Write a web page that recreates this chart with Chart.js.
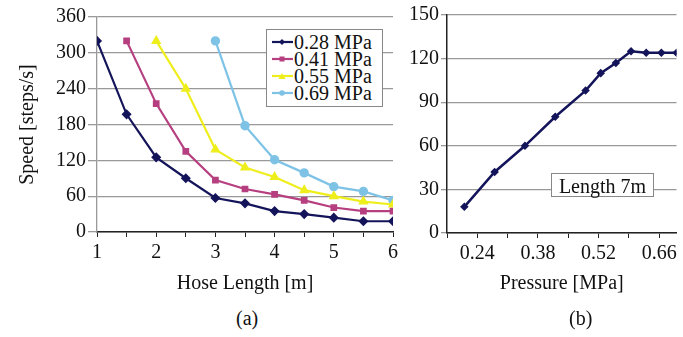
<!DOCTYPE html>
<html>
<head>
<meta charset="utf-8">
<script src="https://cdn.jsdelivr.net/npm/chart.js@4.4.0/dist/chart.umd.min.js"></script>
<style>
  body { margin: 0; background: #fff; width: 683px; height: 337px; overflow: hidden; position: relative; font-family: 'Liberation Serif', serif; color: #111; }
  .box { position: absolute; }
  #legend { left: 266px; top: 29px; width: 117px; height: 78px; border: 1px solid #888; background: #fff; padding-top: 4px; box-sizing: border-box; }
  .row { height: 17px; line-height: 17px; font-size: 20px; white-space: nowrap; }
  .row svg { vertical-align: middle; margin-left: 5px; margin-right: 1px; position: relative; top: -2px; }
  #note { left: 551px; top: 173px; width: 103px; height: 24px; border: 1px solid #888; background: #fff; font-size: 20px; line-height: 24px; text-align: center; box-sizing: border-box; }
  .cap { position: absolute; font-size: 20px; top: 307px; }
</style>
</head>
<body>
<div class="box" style="left:0;top:0;width:410px;height:300px"><canvas id="hose"></canvas></div>
<div class="box" style="left:400px;top:0;width:283px;height:300px"><canvas id="pressure"></canvas></div>
<div class="box" id="legend"></div>
<div class="box" id="note">Length 7m</div>
<div class="cap" style="left:236px">(a)</div>
<div class="cap" style="left:569px">(b)</div>
<script>
// (a) speed vs hose length
let hoseLength = [1, 1.5, 2, 2.5, 3, 3.5, 4, 4.5, 5, 5.5, 6];
let seriesNames = ['0.28 MPa', '0.41 MPa', '0.55 MPa', '0.69 MPa'];
let speed028 = [320, 197, 125, 90, 57, 48, 35, 30, 24, 18, 18];
let speed041 = [null, 320, 215, 135, 87, 72, 63, 53, 41, 35, 35];
let speed055 = [null, null, 320, 240, 138, 108, 92, 70, 60, 51, 46];
let speed069 = [null, null, null, null, 320, 178, 121, 99, 76, 68, 53];
let speedTicks = [0, 60, 120, 180, 240, 300, 360];

// (b) speed vs pressure, hose 7m
let pressure = [0.21, 0.28, 0.35, 0.42, 0.49, 0.525, 0.56, 0.595, 0.63, 0.665, 0.70];
let speed7m = [18, 42, 60, 80, 98, 110, 117, 125, 124, 124, 124];
let pressureTicks = ['0.24', '0.38', '0.52', '0.66'];

let colores = ['#14145a', '#b63f80', '#eeee1c', '#7ec3e6'];
let marcas = ['rectRot', 'rect', 'triangle', 'circle'];
let radios = [3.5, 3.2, 3.8, 3.6];

Chart.defaults.font.family = 'Liberation Serif';
Chart.defaults.font.size = 20;
Chart.defaults.color = '#111';
Chart.defaults.animation = false;

function puntos(xs, ys) {
    let out = [];
    for (i = 0; i < xs.length; i++) {
        if (ys[i] !== null) out.push({x: xs[i], y: ys[i]});
    }
    return out;
}

let todas = [speed028, speed041, speed055, speed069];
let datasets = [];
for (let k = 0; k < todas.length; k++) {
    datasets.push({
        label: seriesNames[k],
        data: puntos(hoseLength, todas[k]),
        borderColor: colores[k],
        backgroundColor: colores[k],
        borderWidth: 2.2,
        pointStyle: marcas[k],
        pointRadius: radios[k],
        tension: 0
    });
}

// legend as html
let legendHtml = '';
for (let k = 0; k < seriesNames.length; k++) {
    let c = colores[k];
    let m = '';
    if (marcas[k] == 'rectRot') m = '<polygon points="10,3 13,6 10,9 7,6" fill="' + c + '"/>';
    else if (marcas[k] == 'rect') m = '<rect x="7.5" y="3.5" width="5" height="5" fill="' + c + '"/>';
    else if (marcas[k] == 'triangle') m = '<polygon points="10,3 13.5,9 6.5,9" fill="' + c + '"/>';
    else m = '<circle cx="10" cy="6" r="2.8" fill="' + c + '"/>';
    legendHtml += '<div class="row"><svg width="21" height="12"><line x1="0" y1="6" x2="21" y2="6" stroke="' + c + '" stroke-width="2.2"/>' + m + '</svg>' + seriesNames[k] + '</div>';
}
document.getElementById('legend').innerHTML = legendHtml;

let graf_hose = new Chart(document.getElementById('hose'), {
    type: 'line',
    data: { datasets: datasets },
    options: {
        responsive: true,
        maintainAspectRatio: false,
        layout: { padding: { top: 17, right: 17, left: 0, bottom: 0 } },
        plugins: { legend: { display: false }, tooltip: { enabled: false } },
        scales: {
            x: {
                type: 'linear',
                min: 1, max: 6,
                ticks: {
                    stepSize: 0.5, autoSkip: false, maxRotation: 0, padding: 4,
                    callback: function(v) { return Number.isInteger(v) ? String(v) : ''; }
                },
                grid: { drawOnChartArea: false, tickLength: 5, color: '#222' },
                border: { color: '#222', width: 1.5 },
                title: { display: true, text: 'Hose Length [m]', padding: { top: 8 } },
                afterFit: function(s) { s.height = 68; }
            },
            y: {
                min: 0, max: 360,
                afterBuildTicks: function(s) { s.ticks = speedTicks.map(function(v) { return {value: v}; }); },
                ticks: { padding: 2 },
                grid: { color: '#999', lineWidth: 1.3, tickLength: 9 },
                border: { color: '#999', width: 1.3 },
                title: { display: true, text: 'Speed [steps/s]', padding: { top: 16, bottom: 0 } },
                afterFit: function(s) { s.width = 97; }
            }
        }
    }
});

let graf_pressure = new Chart(document.getElementById('pressure'), {
    type: 'line',
    data: {
        datasets: [{
            label: 'Length 7m',
            data: puntos(pressure, speed7m),
            borderColor: colores[0],
            backgroundColor: colores[0],
            borderWidth: 2.5,
            pointStyle: 'rectRot',
            pointRadius: 2.5,
            tension: 0
        }]
    },
    options: {
        responsive: true,
        maintainAspectRatio: false,
        layout: { padding: { top: 15, right: 6, left: 0, bottom: 0 } },
        plugins: { legend: { display: false }, tooltip: { enabled: false } },
        scales: {
            x: {
                type: 'linear',
                min: 0.17, max: 0.70,
                afterBuildTicks: function(s) {
                    let t = [];
                    for (let v = 0.17; v < 0.701; v += 0.07) t.push({value: Math.round(v * 100) / 100});
                    s.ticks = t;
                },
                ticks: {
                    autoSkip: false, maxRotation: 0, padding: 4,
                    callback: function(v) { let s = v.toFixed(2); return pressureTicks.indexOf(s) >= 0 ? s : ''; }
                },
                grid: { drawOnChartArea: false, tickLength: 5, color: '#222' },
                border: { color: '#222', width: 1.5 },
                title: { display: true, text: 'Pressure [MPa]', padding: { top: 8 } },
                afterFit: function(s) { s.height = 67; }
            },
            y: {
                min: 0, max: 150,
                ticks: { stepSize: 30, padding: 2 },
                grid: { color: '#999', lineWidth: 1.3, tickLength: 6 },
                border: { color: '#222', width: 1.5 },
                afterFit: function(s) { s.width = 47; }
            }
        }
    }
});
</script>
</body>
</html>
